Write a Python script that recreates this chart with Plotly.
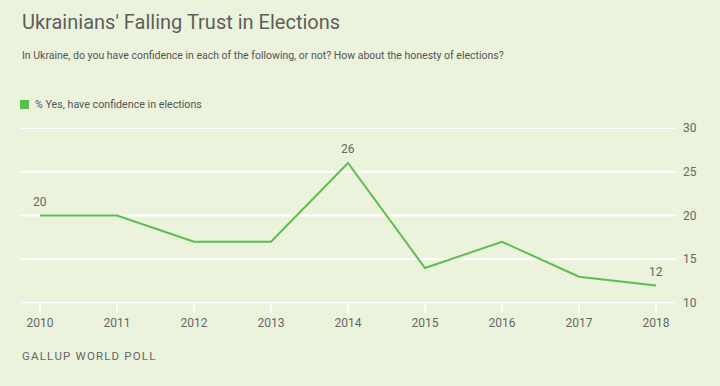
import plotly.graph_objects as go

years = [2010, 2011, 2012, 2013, 2014, 2015, 2016, 2017, 2018]
pct_yes = [20, 20, 17, 17, 26, 14, 17, 13, 12]
labeled_years = [2010, 2014, 2018]
y_ticks = [10, 15, 20, 25, 30]

BG = "#EBF3DC"
GREEN = "#5CBF4D"
TXT = "#666666"
FONT = "Roboto, Arial, sans-serif"

fig = go.Figure()
fig.add_trace(go.Scatter(x=years, y=pct_yes, mode="lines",
                         line=dict(color=GREEN, width=2), showlegend=False,
                         hoverinfo="skip"))

for yr in labeled_years:
    v = pct_yes[years.index(yr)]
    fig.add_annotation(x=yr, y=v, text=str(v), showarrow=False, yshift=14,
                       font=dict(size=12, color=TXT, family=FONT))

for t in y_ticks:
    fig.add_shape(type="line", xref="paper", yref="y", x0=0, x1=1, y0=t, y1=t,
                  line=dict(color="white", width=2), layer="below")

fig.update_layout(
    width=720, height=386,
    margin=dict(l=20, r=44, t=128, b=83),
    paper_bgcolor=BG, plot_bgcolor=BG,
    font=dict(family=FONT, color=TXT),
    xaxis=dict(range=[2009.74, 2018.26], tickvals=years, ticktext=[str(y) for y in years],
               showgrid=False, zeroline=False, showline=False,
               ticks="outside", ticklen=9, tickwidth=2, tickcolor="white",
               tickfont=dict(size=12, color=TXT)),
    yaxis=dict(range=[10, 30], tickvals=y_ticks, side="right",
               showgrid=False, zeroline=False,
               showline=False, ticks="", ticklabelstandoff=6,
               tickfont=dict(size=12, color=TXT)),
    showlegend=False,
)

fig.add_annotation(xref="paper", yref="paper", x=0, y=(303 - 22) / 175, xanchor="left",
                   yanchor="middle", showarrow=False, text="Ukrainians' Falling Trust in Elections",
                   font=dict(size=20, color="#5e5e5e", family=FONT))
fig.add_annotation(xref="paper", yref="paper", x=0, y=(303 - 55) / 175, xanchor="left",
                   yanchor="middle", showarrow=False,
                   text="In Ukraine, do you have confidence in each of the following, or not? How about the honesty of elections?",
                   font=dict(size=10.5, color="#555555", family=FONT))
fig.add_shape(type="rect", xref="paper", yref="paper",
              x0=0, x1=9 / 656, y0=(303 - 109) / 175, y1=(303 - 100) / 175,
              fillcolor=GREEN, line=dict(width=0))
fig.add_annotation(xref="paper", yref="paper", x=13 / 656, y=(303 - 104.5) / 175, xanchor="left",
                   yanchor="middle", showarrow=False, text="% Yes, have confidence in elections",
                   font=dict(size=10.7, color="#555555", family=FONT))
footer = "\u200a".join("GALLUP WORLD POLL")
fig.add_annotation(xref="paper", yref="paper", x=0, y=(303 - 356) / 175, xanchor="left",
                   yanchor="middle", showarrow=False, text=footer,
                   font=dict(size=11.5, color=TXT, family=FONT))

fig.write_html("out.html", config={"displayModeBar": False},
               post_script="document.body.style.margin='0';document.body.style.background='%s';" % BG)
